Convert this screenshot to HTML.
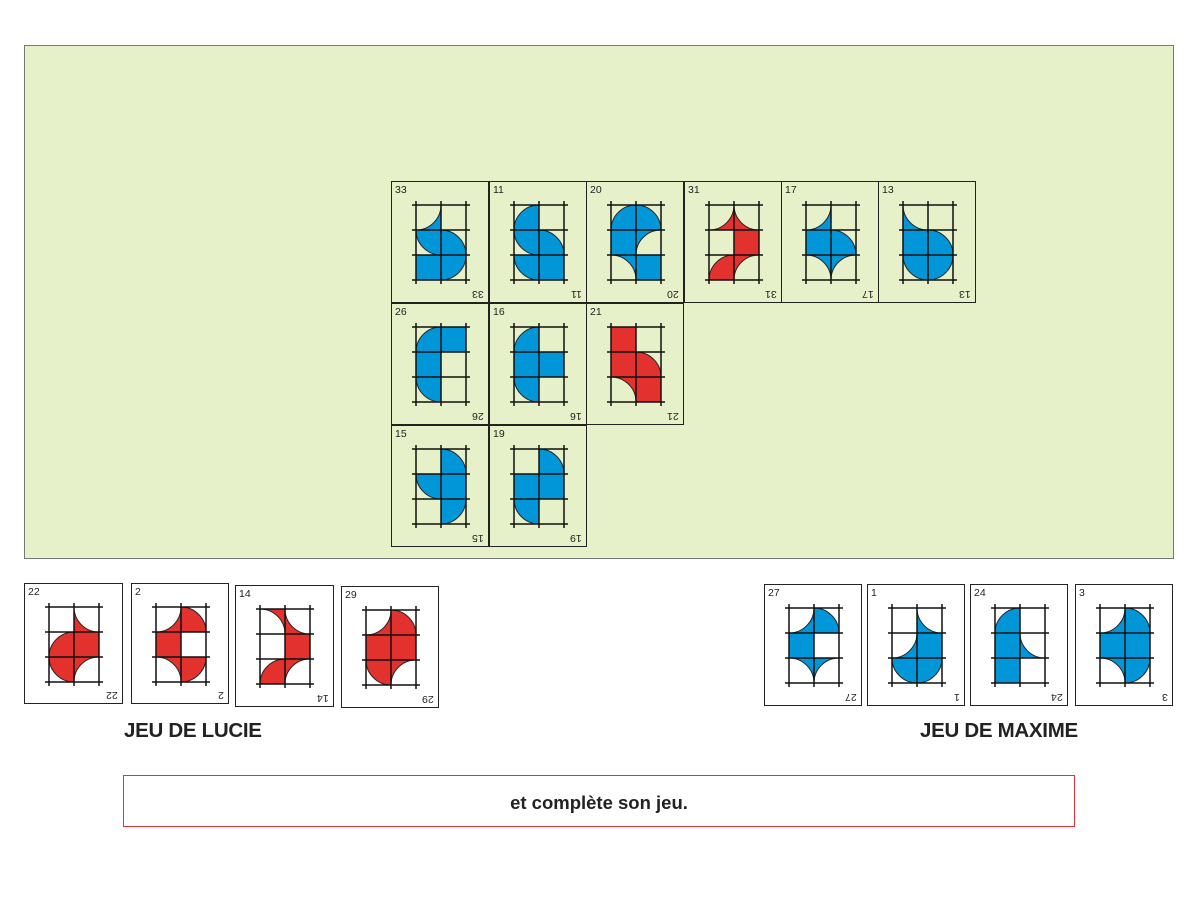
<!DOCTYPE html>
<html><head><meta charset="utf-8"><style>
body{margin:0;width:1200px;height:900px;background:#fff;position:relative;font-family:"Liberation Sans",sans-serif;overflow:hidden}
#board{position:absolute;left:24px;top:45px;width:1148px;height:512px;background:#e6f0c9;border:1px solid #777}
.card{position:absolute;border:1.6px solid #222;box-sizing:border-box}
.card svg{position:absolute;left:0;top:0}
.n{position:absolute;left:3px;top:2px;font-size:10.5px;color:#222}
.m{position:absolute;right:4px;bottom:2px;font-size:10.5px;color:#222;transform:rotate(180deg)}
.lbl{position:absolute;font-weight:bold;font-size:20.5px;color:#222;letter-spacing:-0.3px}
#box{position:absolute;left:123px;top:775px;width:950px;height:50px;border:1.5px solid #e0313a;font-weight:bold;font-size:18.5px;text-align:center;line-height:54px;color:#222}
</style></head><body>
<div id="board"></div>
<div class="lbl" style="left:124px;top:719px">JEU DE LUCIE</div>
<div class="lbl" style="left:920px;top:719px">JEU DE MAXIME</div>
<div id="box">et complète son jeu.</div>
<div id="cards">
<div class="card" style="left:391px;top:181px;width:98px;height:122px"><span class="n">33</span><span class="m">33</span></div>
<div class="card" style="left:489px;top:181px;width:98px;height:122px"><span class="n">11</span><span class="m">11</span></div>
<div class="card" style="left:586px;top:181px;width:98px;height:122px"><span class="n">20</span><span class="m">20</span></div>
<div class="card" style="left:684px;top:181px;width:98px;height:122px"><span class="n">31</span><span class="m">31</span></div>
<div class="card" style="left:781px;top:181px;width:98px;height:122px"><span class="n">17</span><span class="m">17</span></div>
<div class="card" style="left:878px;top:181px;width:98px;height:122px"><span class="n">13</span><span class="m">13</span></div>
<div class="card" style="left:391px;top:303px;width:98px;height:122px"><span class="n">26</span><span class="m">26</span></div>
<div class="card" style="left:489px;top:303px;width:98px;height:122px"><span class="n">16</span><span class="m">16</span></div>
<div class="card" style="left:586px;top:303px;width:98px;height:122px"><span class="n">21</span><span class="m">21</span></div>
<div class="card" style="left:391px;top:425px;width:98px;height:122px"><span class="n">15</span><span class="m">15</span></div>
<div class="card" style="left:489px;top:425px;width:98px;height:122px"><span class="n">19</span><span class="m">19</span></div>
<div class="card" style="left:24px;top:583px;width:99px;height:121px;background:#fff"><span class="n">22</span><span class="m">22</span></div>
<div class="card" style="left:131px;top:583px;width:98px;height:121px;background:#fff"><span class="n">2</span><span class="m">2</span></div>
<div class="card" style="left:235px;top:585px;width:99px;height:122px;background:#fff"><span class="n">14</span><span class="m">14</span></div>
<div class="card" style="left:341px;top:586px;width:98px;height:122px;background:#fff"><span class="n">29</span><span class="m">29</span></div>
<div class="card" style="left:764px;top:584px;width:98px;height:122px;background:#fff"><span class="n">27</span><span class="m">27</span></div>
<div class="card" style="left:867px;top:584px;width:98px;height:122px;background:#fff"><span class="n">1</span><span class="m">1</span></div>
<div class="card" style="left:970px;top:584px;width:98px;height:122px;background:#fff"><span class="n">24</span><span class="m">24</span></div>
<div class="card" style="left:1075px;top:584px;width:98px;height:122px;background:#fff"><span class="n">3</span><span class="m">3</span></div>
</div>
<script>
var B="#0096d8",R="#e3312d";
var D=[
[B,"cTL E dTR dBL F dTL"],[B,"dBR E dTR dBL dTR F"],[B,"dBR dBL F cBR cBL F"],
[R,"cTL cTR E F dBR cBR"],[B,"cTL E F dBL cBL cBR"],[B,"cTR E F dBL dTR dTL"],
[B,"dBR F F E dTR E"],[B,"dBR E F F dTR E"],[R,"F E F dBL cBL F"],
[B,"E dBL dTR F E dTL"],[B,"E dBL F F dTR E"],
[R,"E cTR dBR F dTR cBR"],[R,"cTL dBL F E cBL dTL"],[R,"cBL cTR E F dBR cBR"],[R,"cTL dBL F F dTR cBR"],
[B,"cTL dBL F E cBL cBR"],[B,"E cTR cTL F dTR dTL"],[B,"dBR E F cTR F E"],[B,"cTL dBL F F cBL dTL"]];
var C={TL:[0,0],TR:[25,0],BL:[0,25],BR:[25,25]};
function sw(c){var a=c[0],b=c[1];return ((a==0&&b==0)||(a==25&&b==25))?1:0;}
function cell(t,x,y,col){
 if(t=="E")return"";
 if(t=="F")return '<rect x="'+x+'" y="'+y+'" width="25" height="25" fill="'+col+'" stroke="#222" stroke-width="1"/>';
 var k=t[0],c=C[t.slice(1)],cx=x+c[0],cy=y+c[1],d;
 var ax=x+(25-c[0]),ay=cy, bx=cx,by=y+(25-c[1]);
 var ox=x+(25-c[0]),oy=y+(25-c[1]);
 if(k=="d"){d="M"+cx+","+cy+"L"+ax+","+ay+"A25,25 0 0 "+sw(c)+" "+bx+","+by+"Z";}
 else{d="M"+ox+","+oy+"L"+ax+","+ay+"A25,25 0 0 "+sw(c)+" "+bx+","+by+"Z";}
 return '<path d="'+d+'" fill="'+col+'" stroke="#222" stroke-width="1"/>';
}
var cards=document.querySelectorAll(".card");
cards.forEach(function(el,i){
 var d=D[i],col=d[0],ts=d[1].split(" "),s='<svg width="98" height="122">',gx=24,gy=23;
 for(var j=0;j<6;j++){s+=cell(ts[j],gx+25*(j%2),gy+25*Math.floor(j/2),col);}
 for(var v=0;v<3;v++)s+='<line x1="'+(gx+25*v)+'" y1="'+(gy-4)+'" x2="'+(gx+25*v)+'" y2="'+(gy+79)+'" stroke="#111" stroke-width="1.5"/>';
 for(var h=0;h<4;h++)s+='<line x1="'+(gx-4)+'" y1="'+(gy+25*h)+'" x2="'+(gx+54)+'" y2="'+(gy+25*h)+'" stroke="#111" stroke-width="1.5"/>';
 s+='</svg>';el.insertAdjacentHTML("afterbegin",s);
});
</script>
</body></html>
